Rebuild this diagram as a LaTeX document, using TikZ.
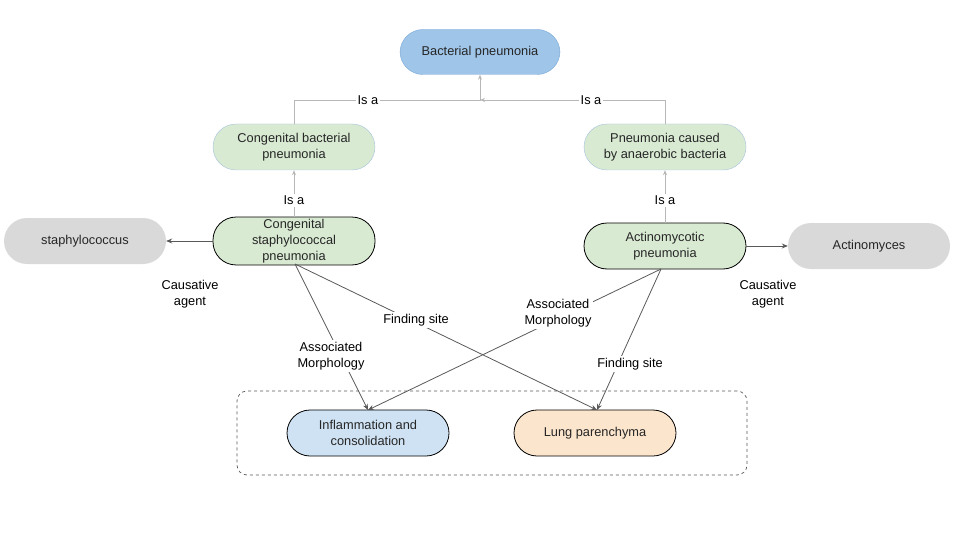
\documentclass[tikz,border=0pt]{standalone}
\usepackage{fontspec}
\setmainfont{Liberation Sans}
\usetikzlibrary{arrows.meta}
\definecolor{bpfill}{HTML}{9FC5E8}
\definecolor{bpdraw}{HTML}{7BA7D6}
\definecolor{grfill}{HTML}{D9EAD3}
\definecolor{grdraw}{HTML}{A4C2DC}
\definecolor{gyfill}{HTML}{D9D9D9}
\definecolor{blfill}{HTML}{CFE2F3}
\definecolor{orfill}{HTML}{FCE5CD}
\definecolor{lgline}{HTML}{B7B7B7}
\definecolor{dkline}{HTML}{595959}
\tikzset{
  concept/.style={rounded corners=23pt, minimum width=162pt, minimum height=46pt,
    align=center, inner sep=2pt, font=\fontsize{12.8}{16}\selectfont, text=black!85},
  isaline/.style={draw=lgline, line width=0.8pt, -{Stealth[length=5pt,width=4pt]}},
  relline/.style={draw=dkline, line width=0.8pt, -{Stealth[length=6pt,width=5pt]}},
  lbl/.style={fill=white, align=center, inner sep=2pt, font=\fontsize{12.8}{16}\selectfont, text=black}
}
\begin{document}
\begin{tikzpicture}[x=1pt,y=-1pt]
\useasboundingbox (0,0) rectangle (960,540);
% group box
\node[draw=dkline, dashed, rounded corners=10pt, minimum width=510pt, minimum height=84pt, line width=0.7pt] (grp) at (492,433) {};
% nodes
\node[concept, fill=bpfill, draw=bpdraw, minimum width=160pt, minimum height=45pt] (bp) at (480,52) {Bacterial pneumonia};
\node[concept, fill=grfill, draw=grdraw] (cbp) at (294,147) {Congenital bacterial\\pneumonia};
\node[concept, fill=grfill, draw=grdraw] (pab) at (665,147) {Pneumonia caused\\by anaerobic bacteria};
\node[concept, fill=grfill, draw=black, line width=0.8pt] (csp) at (294,241) {Congenital\\staphylococcal\\pneumonia};
\node[concept, fill=gyfill] (sta) at (85,241) {staphylococcus};
\node[concept, fill=grfill, draw=black, line width=0.8pt] (ap) at (665,246) {Actinomycotic\\pneumonia};
\node[concept, fill=gyfill] (act) at (869,246) {Actinomyces};
\node[concept, fill=blfill, draw=black, line width=0.8pt] (inf) at (368,433) {Inflammation and\\consolidation};
\node[concept, fill=orfill, draw=black, line width=0.8pt] (lp) at (595,433) {Lung parenchyma};
% is-a edges
\coordinate (jn) at (480,100);
\draw[isaline] (cbp.north) |- (jn) -- (bp.south);
\draw[isaline] (pab.north) |- (jn);
\node[lbl] (l1) at (368,100) {Is a};
\node[lbl] (l2) at (591,100) {Is a};
\draw[isaline] (csp.north) -- node[lbl, pos=0.35] (l3) {Is a} (cbp.south);
\draw[isaline] (ap.north) -- node[lbl, pos=0.42] (l4) {Is a} (pab.south);
% causative agent
\draw[relline] (csp.west) -- (sta.east);
\node[lbl] (l5) at (190,294) {Causative\\agent};
\draw[relline] (ap.east) -- (act.west);
\node[lbl] (l6) at (768,294) {Causative\\agent};
% morphology / finding site
\coordinate (cs1) at (295,264);
\coordinate (ap1) at (661,269);
\coordinate (inft) at (368,410);
\coordinate (lpt) at (597,410);
\draw[relline] (cs1) -- (inft);
\draw[relline] (cs1) -- (lpt);
\draw[relline] (ap1) -- (inft);
\draw[relline] (ap1) -- (lpt);
\node[lbl] (l7) at (331,356) {Associated\\Morphology};
\node[lbl] (l8) at (416,320) {Finding site};
\node[lbl] (l9) at (558,313) {Associated\\Morphology};
\node[lbl] (l10) at (630,364) {Finding site};
\end{tikzpicture}
\end{document}
